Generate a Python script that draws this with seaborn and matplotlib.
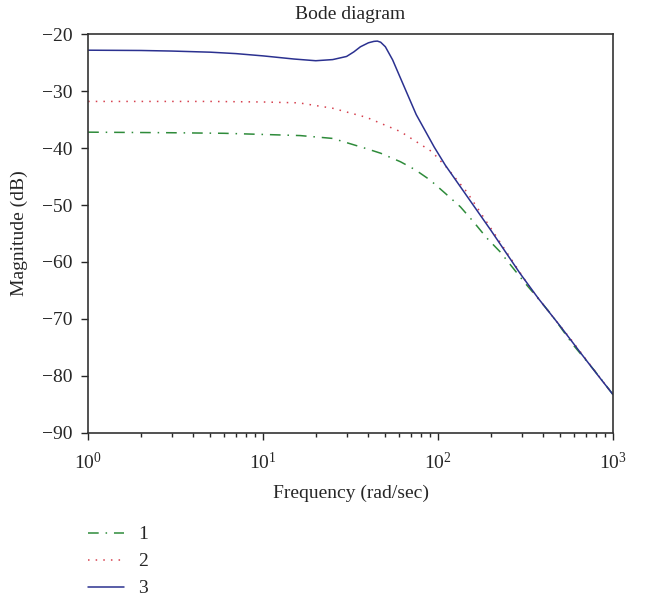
import matplotlib
matplotlib.use("Agg")
import matplotlib.pyplot as plt
import pandas as pd
import seaborn as sns

# frequency (rad/sec) and magnitude (dB)
freq_1 = [1, 3, 6, 10, 16.3, 25, 39, 47, 61, 74, 90, 110, 134, 159, 190,
          226, 264, 314, 366, 446, 593, 780, 1000]
mag_1 = [-37.2, -37.3, -37.4, -37.6, -37.8, -38.3, -40.1, -40.9, -42.4, -43.8,
         -45.6, -47.95, -50.3, -52.9, -55.8, -58.2, -60.8, -63.7, -66.1, -69.3,
         -74.6, -79.0, -83.3]

freq_2 = [1, 3, 5, 10, 16, 25, 39, 61, 92, 112, 146, 216, 335, 436, 568,
          750, 1000]
mag_2 = [-31.8, -31.8, -31.8, -31.9, -32.05, -33.0, -34.6, -37.1, -40.6, -43.4,
         -47.7, -55.6, -64.5, -69.0, -73.4, -78.3, -83.3]

freq_3 = [1, 2, 3, 5, 7, 10, 15, 20, 25, 30, 33, 36, 40, 43, 45, 47, 50, 55,
          60, 75, 95, 110, 140, 200, 294, 374, 500, 650, 800, 1000]
mag_3 = [-22.8, -22.85, -22.95, -23.15, -23.4, -23.8, -24.35, -24.65, -24.45,
         -23.9, -23.1, -22.2, -21.5, -21.25, -21.2, -21.4, -22.2, -24.5,
         -27.2, -34.1, -39.8, -43.0, -47.6, -54.4, -62.0, -66.4, -71.3, -75.9,
         -79.5, -83.3]

labels = ["1", "2", "3"]
colors = ["#2E8B3A", "#D6404E", "#2B3190"]
styles = [(0, (7, 4.5, 1, 4.5)), (0, (1, 4)), "-"]

df = pd.concat([
    pd.DataFrame({"freq": f, "mag": m, "series": s})
    for f, m, s in zip([freq_1, freq_2, freq_3], [mag_1, mag_2, mag_3], labels)
])

sns.set_style("ticks")
plt.rcParams["font.family"] = ["Liberation Serif", "DejaVu Serif"]
plt.rcParams["mathtext.fontset"] = "stix"
plt.rcParams["axes.unicode_minus"] = True

fs = 14
fig = plt.figure(figsize=(6.48, 6.01), dpi=100)
ax = fig.add_axes([0.136, 0.280, 0.810, 0.663])

for lab, col, ls in zip(labels, colors, styles):
    sns.lineplot(data=df[df["series"] == lab], x="freq", y="mag", ax=ax,
                 color=col, linestyle=ls, linewidth=1.1, label=lab)

ax.set_xscale("log")
ax.set_xlim(1, 1000)
ax.set_ylim(-90, -20)
ax.set_yticks(range(-90, -19, 10))
ax.set_title("Bode diagram", fontsize=fs, pad=11)
ax.set_xlabel("Frequency (rad/sec)", fontsize=fs, labelpad=8)
ax.set_ylabel("Magnitude (dB)", fontsize=fs, labelpad=10)
ax.tick_params(axis="both", which="major", labelsize=fs, length=5,
               width=1, direction="out", top=False, right=False)
ax.tick_params(axis="y", which="major", pad=6)
ax.tick_params(axis="x", which="major", pad=9)
ax.tick_params(axis="x", which="minor", length=3, width=1, direction="out",
               top=False)
for sp in ax.spines.values():
    sp.set_color("#333333")
    sp.set_linewidth(1.2)

h, l = ax.get_legend_handles_labels()
ax.get_legend().remove()
fig.legend(h, l, loc="upper left", bbox_to_anchor=(0.1358, 0.1250),
           borderaxespad=0, borderpad=0, frameon=False, fontsize=fs,
           handlelength=1.85, handletextpad=0.72, labelspacing=0.48)

fig.savefig("out.png", dpi=100)
